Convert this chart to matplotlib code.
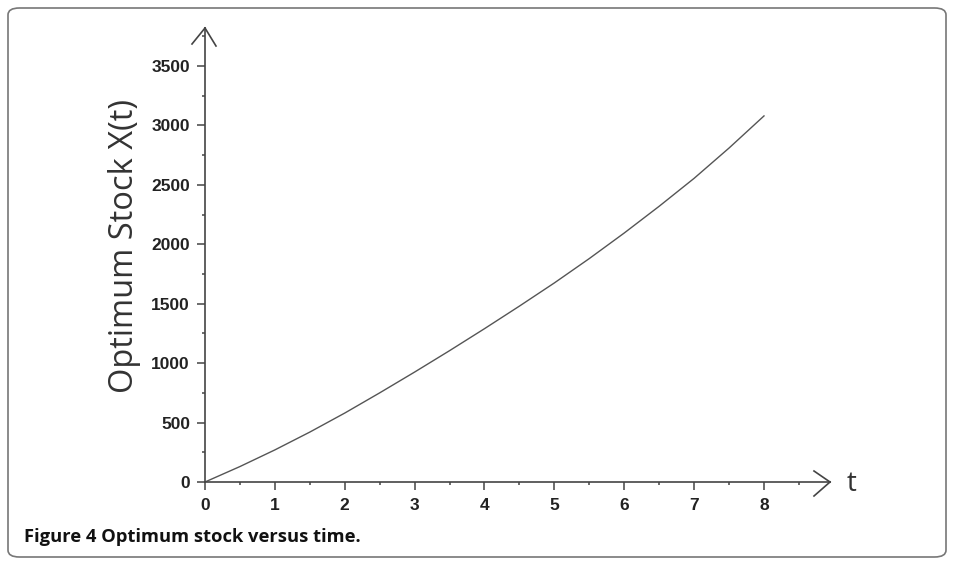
import numpy as np
import matplotlib.pyplot as plt
from matplotlib.patches import FancyBboxPatch
from matplotlib.ticker import MultipleLocator

# values
t = [0, 0.5, 1, 1.5, 2, 2.5, 3, 3.5, 4, 4.5, 5, 5.5, 6, 6.5, 7, 7.5, 8]
stock = [0, 130, 270, 420, 580, 750, 925, 1105, 1290, 1480, 1675, 1880,
         2095, 2320, 2555, 2810, 3080]
xticks = [0, 1, 2, 3, 4, 5, 6, 7, 8]
yticks = [0, 500, 1000, 1500, 2000, 2500, 3000, 3500]

W, H = 954, 565
fig = plt.figure(figsize=(W / 100, H / 100), dpi=100)

# pixel geometry of the plot
x0, y0 = 205, 482      # origin in pixels
x_end, y_end = 830, 28  # arrow tips
px_per_t = (764 - 205) / 8
px_per_y = (482 - 66) / 3500

ax = fig.add_axes([x0 / W, (H - y0) / H, (x_end - x0) / W, (y0 - y_end) / H])
ax.set_xlim(0, (x_end - x0) / px_per_t)
ax.set_ylim(0, (y0 - y_end) / px_per_y)

axcol = '#444444'
ax.plot(t, stock, color='#555555', lw=1.0)

for s in ['top', 'right']:
    ax.spines[s].set_visible(False)
for s in ['left', 'bottom']:
    ax.spines[s].set_color(axcol)
    ax.spines[s].set_linewidth(1.2)

ax.set_xticks(xticks)
ax.set_yticks(yticks)
ax.xaxis.set_minor_locator(MultipleLocator(0.5))
ax.yaxis.set_minor_locator(MultipleLocator(250))
ax.tick_params(which='major', direction='out', length=5.8, width=1.1, color=axcol)
ax.tick_params(which='minor', direction='out', length=2.5, width=1.1, color=axcol)
ax.tick_params(axis='x', pad=6)
ax.tick_params(axis='y', pad=5)
for lab in ax.get_xticklabels() + ax.get_yticklabels():
    lab.set_fontfamily('Liberation Sans')
    lab.set_fontweight('bold')
    lab.set_fontsize(12.5)
    lab.set_color('#222222')

# open arrow heads
aw, ah = ax.bbox.width, ax.bbox.height
def px(dx, dy):
    return dx / aw, dy / ah
# y axis arrow
for dx, dy in [(-13, -16), (11, -18)]:
    fx, fy = px(dx, dy)
    ax.plot([0, fx], [1, 1 + fy], color=axcol, lw=1.2,
            transform=ax.transAxes, clip_on=False)
# x axis arrow
for dx, dy in [(-16, 11), (-16, -14)]:
    fx, fy = px(dx, dy)
    ax.plot([1, 1 + fx], [0, fy], color=axcol, lw=1.2,
            transform=ax.transAxes, clip_on=False)

fig.text(852 / W, 1 - 484 / H, 't', fontsize=20, family='Open Sans',
         ha='center', va='center', color='#333333')
fig.text(125 / W, 1 - 246 / H, 'Optimum Stock X(t)', fontsize=23.5,
         family='Open Sans', rotation=90, ha='center', va='center',
         color='#333333')

fig.text(24 / W, 1 - 537 / H, 'Figure 4 Optimum stock versus time.',
         fontsize=13.2, family='Open Sans', fontweight='bold',
         ha='left', va='center', color='#111111')

# rounded frame
frame = FancyBboxPatch((8 / W, 8 / H), 1 - 16 / W, 1 - 16 / H,
                       boxstyle='round,pad=0,rounding_size=0.012',
                       transform=fig.transFigure, fill=False,
                       edgecolor='#777777', lw=1.2)
fig.patches.append(frame)

fig.savefig('out.png', dpi=100)
